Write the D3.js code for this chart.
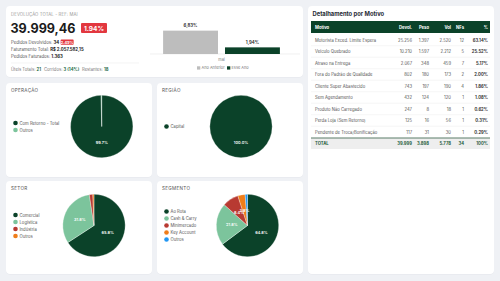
<html>
<meta charset="utf-8">
<script src="https://cdn.jsdelivr.net/npm/d3@7"></script>
<style>
  body { margin: 0; background: #eff1f5; }
  svg { display: block; font-family: Inter, "Noto Sans", sans-serif; }
</style>
<body>
<div id="chart"></div>
<script>
// ---- data ----
var kpiTitle = "DEVOLUÇÃO TOTAL - REF: MAI"
var kpiValue = "39.999,46"
var kpiBadge = "1.94%"
var kpiLines = [
  ["Pedidos Devolvidos: ", "34"],
  ["Faturamento Total: ", "R$ 2.057.582,15"],
  ["Pedidos Faturados: ", "1.363"]
]
var pedidosBadge = "2.49%"
var diasLabels = ["Úteis Totais: ", "Corridos: ", "Restantes: "]
var diasValues = ["21", "3 (14%)", "18"]

var barMonths = ["mai"]
var barSeries = ["Ano Anterior", "Esse Ano"]
var barValues = [6.83, 1.94]
var barLabels = ["6,83%", "1,94%"]

var tableHeader = ["Motivo", "Devol.", "Peso", "Vol", "NFs", "%"]
var motivos = ["Motorista Exced. Limite Espera", "Veículo Quebrado", "Atraso na Entrega",
  "Fora do Padrão de Qualidade", "Cliente Super Abastecido", "Sem Agendamento",
  "Produto Não Carregado", "Perda Loja (Sem Retorno)", "Pendente de Troca/Bonificação"]
var devol = ["25.256", "10.210", "2.067", "802", "743", "432", "247", "125", "117"]
var peso = ["1.397", "1.597", "348", "180", "197", "124", "8", "16", "31"]
var vol = ["2.520", "2.212", "459", "173", "190", "120", "18", "56", "30"]
var nfs = ["12", "5", "7", "2", "4", "1", "1", "1", "1"]
var pct = ["63.14%", "25.52%", "5.17%", "2.00%", "1.86%", "1.08%", "0.62%", "0.31%", "0.29%"]
var totalRow = ["TOTAL", "39.999", "3.898", "5.778", "34", "100%"]

var operacaoLabels = ["Com Retorno - Total", "Outros"]
var operacaoValues = [99.7, 0.3]
var regiaoLabels = ["Capital"]
var regiaoValues = [100.0]
var setorLabels = ["Comercial", "Logística", "Indústria", "Outros"]
var setorValues = [65.8, 31.8, 1.8, 0.6]
var segmentoLabels = ["Ao Rota", "Cash & Carry", "Minimercado", "Key Account", "Outros"]
var segmentoValues = [64.8, 21.8, 8.4, 3.8, 1.2]

var darkGreen = "#0b4229"
var pieColors = ["#0b4229", "#7cc49c", "#b83a32", "#ef7d1a", "#2196f3"]
var red = "#e2373f"

var W = 500, H = 281
var svg = d3.select("#chart").append("svg").attr("width", W).attr("height", H)

function card(x, y, w, h){
  svg.append("rect").attr("x", x).attr("y", y + 0.6).attr("width", w).attr("height", h)
    .attr("rx", 4).attr("fill", "#e3e6eb")
  svg.append("rect").attr("x", x).attr("y", y).attr("width", w).attr("height", h)
    .attr("rx", 4).attr("fill", "#fff")
}

card(6, 6, 297, 71)
card(308, 6, 186, 268)
card(6, 83, 146, 94)
card(157, 83, 146, 94)
card(6, 181, 146, 93)
card(157, 181, 146, 93)

// ---- KPI ----
svg.append("text").attr("x", 11).attr("y", 15.5).text(kpiTitle)
  .attr("font-size", 4.3).attr("fill", "#9a9a9a").attr("letter-spacing", 0.1)
var big = svg.append("text").attr("x", 10.5).attr("y", 33).text(kpiValue)
  .attr("font-size", 13).attr("font-weight", 700).attr("fill", "#1b1b1b")
// fit the big number to its width in the reference
var bw = big.node().getComputedTextLength()
big.attr("font-size", 13 * 65 / bw)

svg.append("rect").attr("x", 81).attr("y", 23).attr("width", 26).attr("height", 10)
  .attr("rx", 1).attr("fill", red)
svg.append("text").attr("x", 94).attr("y", 30.5).attr("text-anchor", "middle").text(kpiBadge)
  .attr("font-size", 6.5).attr("font-weight", 700).attr("fill", "#fff")

var firstLine
kpiLines.forEach(function(d, i){
  var t = svg.append("text").attr("x", 11).attr("y", 43.5 + i * 7)
    .attr("font-size", 4.3).attr("fill", "#555")
  t.append("tspan").text(d[0])
  t.append("tspan").text(d[1]).attr("font-weight", 700).attr("fill", "#222")
  if (i === 0) firstLine = t
})
var fx = 11 + firstLine.node().getComputedTextLength() + 1.5
svg.append("rect").attr("x", fx).attr("y", 39.6).attr("width", 13).attr("height", 5.2)
  .attr("rx", 0.8).attr("fill", red)
svg.append("text").attr("x", fx + 6.5).attr("y", 43.5).attr("text-anchor", "middle").text(pedidosBadge)
  .attr("font-size", 3.9).attr("font-weight", 700).attr("fill", "#fff")

svg.append("line").attr("x1", 11).attr("x2", 139).attr("y1", 63).attr("y2", 63)
  .attr("stroke", "#ececec").attr("stroke-width", 0.6)
var diasX = [11, 44, 82]
diasLabels.forEach(function(d, i){
  var t = svg.append("text").attr("x", diasX[i]).attr("y", 71)
    .attr("font-size", 4.2).attr("fill", "#777")
  t.append("tspan").text(d)
  t.append("tspan").text(diasValues[i]).attr("font-weight", 700).attr("fill", "#1e6b45")
})

// ---- bar chart ----
var x0 = d3.scaleBand().domain(barMonths).range([160, 283])
var x1 = d3.scaleBand().domain(barSeries).range([0, x0.bandwidth()])
  .paddingInner(0.113).paddingOuter(0.05)
var y = d3.scaleLinear().domain([0, 7.6]).range([54, 28])
var barColor = d3.scaleOrdinal().domain(barSeries).range(["#bdbdbd", darkGreen])

svg.append("line").attr("x1", 150).attr("x2", 300).attr("y1", y(0)).attr("y2", y(0))
  .attr("stroke", "#e6e6e6").attr("stroke-width", 0.6)
var bars = svg.append("g")
barSeries.forEach(function(s, i){
  var bx = x0(barMonths[0]) + x1(s)
  bars.append("rect").attr("x", bx).attr("y", y(barValues[i]))
    .attr("width", x1.bandwidth()).attr("height", y(0) - y(barValues[i]))
    .attr("fill", barColor(s))
  bars.append("text").attr("x", bx + x1.bandwidth() / 2).attr("y", y(barValues[i]) - 3.5)
    .attr("text-anchor", "middle").text(barLabels[i])
    .attr("font-size", 4.3).attr("font-weight", 700).attr("fill", "#333")
})
svg.append("g").attr("transform", "translate(0," + y(0) + ")")
  .call(d3.axisBottom(x0).tickSize(0).tickPadding(4))
  .call(function(g){ g.select(".domain").remove() })
  .selectAll("text").attr("font-size", 3.8).attr("fill", "#777").attr("font-family", "Inter")

var legX = [197, 227]
barSeries.forEach(function(s, i){
  svg.append("rect").attr("x", legX[i]).attr("y", 66.3).attr("width", 3.3).attr("height", 3.3)
    .attr("fill", barColor(s))
  svg.append("text").attr("x", legX[i] + 4.5).attr("y", 69.3).text(s)
    .attr("font-size", 3.9).attr("fill", "#777")
})

// ---- table ----
svg.append("text").attr("x", 312.5).attr("y", 16).text("Detalhamento por Motivo")
  .attr("font-size", 5.8).attr("font-weight", 700).attr("fill", "#1f2a33")
svg.append("rect").attr("x", 311).attr("y", 21).attr("width", 179).attr("height", 12)
  .attr("fill", darkGreen)
var colX = [315, 412, 429, 451, 464, 488]
tableHeader.forEach(function(h, j){
  svg.append("text").attr("x", colX[j]).attr("y", 28.6).text(h)
    .attr("text-anchor", j === 0 ? "start" : "end")
    .attr("font-size", 4.2).attr("font-weight", 700).attr("fill", "#fff")
})
var rowY = d3.scaleLinear().domain([0, 8]).range([40, 132])
var cols = [motivos, devol, peso, vol, nfs, pct]
motivos.forEach(function(m, i){
  var cy = rowY(i)
  if (i < motivos.length - 1)
    svg.append("line").attr("x1", 311).attr("x2", 490).attr("y1", cy + 5.75).attr("y2", cy + 5.75)
      .attr("stroke", "#f0f0f0").attr("stroke-width", 0.6)
  cols.forEach(function(c, j){
    svg.append("text").attr("x", colX[j]).attr("y", cy + 1.5).text(c[i])
      .attr("text-anchor", j === 0 ? "start" : "end")
      .attr("font-size", 4.2)
      .attr("font-weight", j === 5 ? 700 : 400)
      .attr("fill", j === 5 ? "#333" : "#555")
  })
})
svg.append("rect").attr("x", 311).attr("y", 138).attr("width", 179).attr("height", 11)
  .attr("fill", "#eeeeee")
svg.append("line").attr("x1", 311).attr("x2", 490).attr("y1", 138).attr("y2", 138)
  .attr("stroke", "#5a7d69").attr("stroke-width", 1.2)
totalRow.forEach(function(c, j){
  svg.append("text").attr("x", colX[j]).attr("y", 145).text(c)
    .attr("text-anchor", j === 0 ? "start" : "end")
    .attr("font-size", 4.2).attr("font-weight", 700).attr("fill", "#1e5c3c")
})

// ---- pies ----
function pieCard(title, tx, ty, cx, cy, labels, values, legX, legY){
  svg.append("text").attr("x", tx).attr("y", ty).text(title)
    .attr("font-size", 4.6).attr("fill", "#555").attr("letter-spacing", 0.3)
  var r = 31.2
  var pie = d3.pie().sort(null)
  var arc = d3.arc().innerRadius(0).outerRadius(r)
  var lab = d3.arc().innerRadius(r * 0.5).outerRadius(r * 0.5)
  var color = d3.scaleOrdinal().domain(labels).range(pieColors)
  var g = svg.append("g").attr("transform", "translate(" + cx + "," + cy + ")")
  var arcs = pie(values)
  g.selectAll("path").data(arcs).enter().append("path")
    .attr("d", arc).attr("fill", function(d, i){ return color(labels[i]) })
    .attr("stroke", "#fff").attr("stroke-width", 0.3)
  g.selectAll("text").data(arcs.filter(function(d){ return d.data > 3 })).enter().append("text")
    .attr("transform", function(d){ return "translate(" + lab.centroid(d) + ")" })
    .attr("dy", 1.4).attr("text-anchor", "middle")
    .text(function(d){ return d.data.toFixed(1) + "%" })
    .attr("font-size", 3.9).attr("font-weight", 600).attr("fill", "#fff")
  var top = legY - (labels.length - 1) * 7 / 2
  labels.forEach(function(l, i){
    svg.append("circle").attr("cx", legX).attr("cy", top + i * 7).attr("r", 2.3)
      .attr("fill", color(l))
    svg.append("text").attr("x", legX + 4).attr("y", top + i * 7 + 1.5).text(l)
      .attr("font-size", 4.2).attr("fill", "#555")
  })
}

pieCard("OPERAÇÃO", 11, 91.5, 101.7, 126.5, operacaoLabels, operacaoValues, 15.5, 126.5)
pieCard("REGIÃO", 162, 91.5, 241, 126.5, regiaoLabels, regiaoValues, 166.5, 126.5)
pieCard("SETOR", 11, 189.5, 94, 225.5, setorLabels, setorValues, 15.5, 225.5)
pieCard("SEGMENTO", 162, 189.5, 247.5, 225.5, segmentoLabels, segmentoValues, 166.5, 225.5)
</script>
</body>
</html>
